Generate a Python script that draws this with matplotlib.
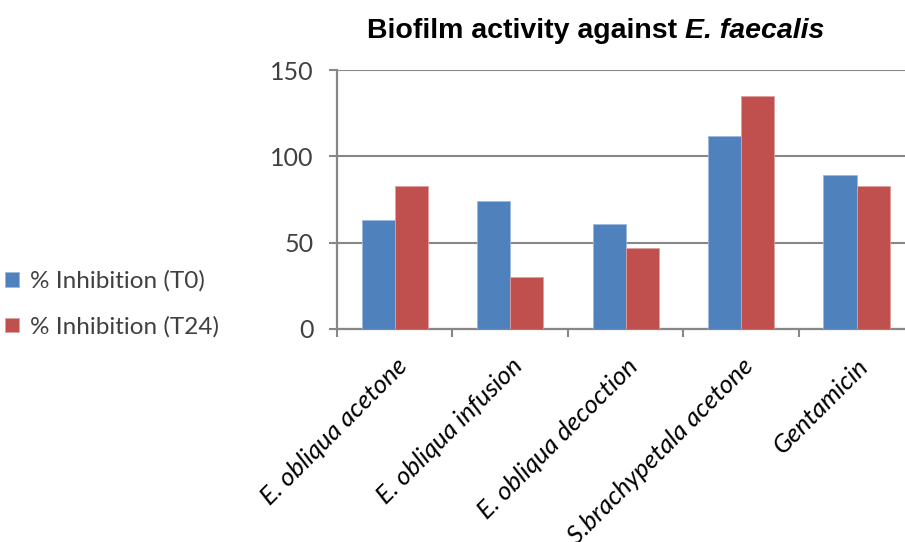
import matplotlib
matplotlib.use("Agg")
import matplotlib.pyplot as plt
import numpy as np

categories = ["E. obliqua acetone", "E. obliqua infusion", "E. obliqua decoction",
              "S.brachypetala acetone", "Gentamicin"]
t0 = [63, 74, 61, 112, 89]
t24 = [83, 30, 47, 135, 83]
series_names = ["% Inhibition (T0)", "% Inhibition (T24)"]
yticks = [0, 50, 100, 150]

blue = "#4F81BD"
red = "#C0504D"
grid_c = "#878787"
txt_c = "#404040"

fig = plt.figure(figsize=(9.05, 5.42), dpi=100)
ax = fig.add_axes([337/905, 1-329/542, 1-337/905, (329-70)/542])

x = np.arange(len(categories))
w = 0.286
b1 = ax.bar(x - w/2, t0, w, color=blue, edgecolor="#9DB8DC", linewidth=0.6, zorder=3)
b2 = ax.bar(x + w/2, t24, w, color=red, edgecolor="#E0A09E", linewidth=0.6, zorder=3)

ax.set_xlim(-0.5, 4.42)
ax.set_ylim(0, 150)
ax.set_yticks(yticks)
ax.yaxis.grid(True, color=grid_c, linewidth=1.5, zorder=0)
ax.set_axisbelow(True)
for s in ["top", "right"]:
    ax.spines[s].set_visible(False)
for s in ["left", "bottom"]:
    ax.spines[s].set_color(grid_c)
    ax.spines[s].set_linewidth(1.6)

font = "Lato"
ax.tick_params(axis="y", direction="out", length=6, width=1.5, color=grid_c,
               labelsize=18, labelcolor=txt_c, pad=11)
for lab in ax.get_yticklabels():
    lab.set_family(font)

ax.set_xticks(np.arange(-0.5, 4.0, 1.0))
ax.tick_params(axis="x", direction="out", length=6, width=1.5, color=grid_c,
               labelbottom=False)

for i, c in enumerate(categories):
    ax.annotate(c, xy=(i, 0), xycoords=("data", "axes fraction"),
                xytext=(6, -24), textcoords="offset points",
                rotation=45, rotation_mode="anchor", ha="right", va="center",
                fontsize=18.5, fontstyle="italic", family=font, color="black")

# Title: bold + bold italic
fig.canvas.draw()
r = fig.canvas.get_renderer()
tsize = 20.5
t1 = fig.text(0, 0, "Biofilm activity against ", fontsize=tsize, fontweight="bold",
              family="Liberation Sans", va="baseline", ha="left")
t2 = fig.text(0, 0, "E. faecalis", fontsize=tsize, fontweight="bold", fontstyle="italic",
              family="Liberation Sans", va="baseline", ha="left")
w1 = t1.get_window_extent(r).width
w2 = t2.get_window_extent(r).width
cx = 596
y_base = 1 - 38/542
x0 = cx - (w1 + w2) / 2
t1.set_position((x0/905, y_base))
t2.set_position(((x0 + w1)/905, y_base))

fig.legend([b1, b2], series_names, loc="center left", bbox_to_anchor=(-0.005, 1-304/542),
           frameon=False, handlelength=0.55, handleheight=0.55, handletextpad=0.45,
           labelspacing=1.0, prop={"family": font, "size": 17.5}, labelcolor=txt_c,
           borderaxespad=0.0)

fig.savefig("out.png", dpi=100)
